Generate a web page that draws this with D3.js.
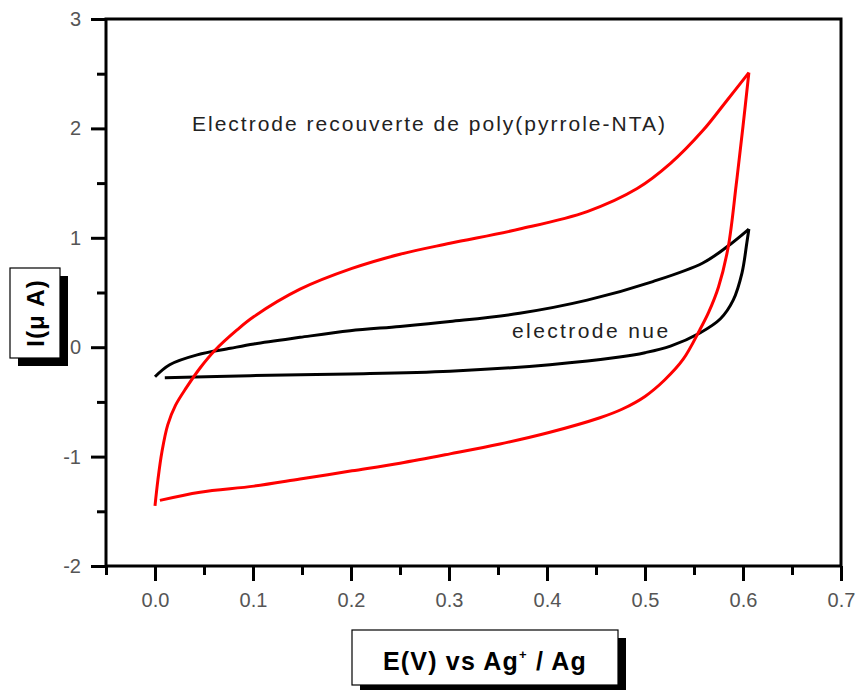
<!DOCTYPE html>
<html>
<head>
<meta charset="utf-8">
<script src="https://cdn.jsdelivr.net/npm/d3@7"></script>
<style>
  html, body { margin: 0; padding: 0; background: #fff; }
  svg { display: block; font-family: "Liberation Sans", Arial, sans-serif; }
</style>
</head>
<body>
<svg id="chart" width="858" height="690"></svg>
<script>
// Cyclic voltammograms: potential E (V vs Ag+/Ag) and current I (µA)

// Bare electrode, anodic sweep
const bareForwardE = [0.000, 0.015, 0.043, 0.077, 0.101, 0.148, 0.199, 0.250, 0.301, 0.372, 0.441, 0.508, 0.559, 0.584, 0.606];
const bareForwardI = [-0.27, -0.16, -0.07, -0.01, 0.03, 0.09, 0.15, 0.19, 0.235, 0.31, 0.43, 0.60, 0.77, 0.92, 1.08];
// Bare electrode, cathodic sweep
const bareReverseE = [0.606, 0.604, 0.599, 0.590, 0.577, 0.556, 0.526, 0.500, 0.474, 0.403, 0.301, 0.199, 0.097, 0.010];
const bareReverseI = [1.08, 0.96, 0.68, 0.43, 0.26, 0.13, 0.01, -0.05, -0.09, -0.16, -0.22, -0.245, -0.26, -0.28];

// Poly(pyrrole-NTA) coated electrode, anodic sweep
const coatedForwardE = [0.000, 0.003, 0.007, 0.013, 0.021, 0.032, 0.046, 0.061, 0.084, 0.101, 0.148, 0.201, 0.250, 0.301, 0.372, 0.441, 0.492, 0.526, 0.559, 0.584, 0.606];
const coatedForwardI = [-1.45, -1.21, -0.96, -0.71, -0.53, -0.37, -0.19, -0.03, 0.16, 0.28, 0.53, 0.72, 0.85, 0.95, 1.08, 1.24, 1.45, 1.68, 1.98, 2.26, 2.51];
// Poly(pyrrole-NTA) coated electrode, cathodic sweep
const coatedReverseE = [0.606, 0.600, 0.593, 0.585, 0.575, 0.565, 0.556, 0.539, 0.520, 0.500, 0.477, 0.454, 0.402, 0.352, 0.301, 0.250, 0.201, 0.148, 0.101, 0.046, 0.005];
const coatedReverseI = [2.51, 2.02, 1.48, 0.92, 0.55, 0.32, 0.16, -0.11, -0.30, -0.45, -0.565, -0.645, -0.78, -0.885, -0.975, -1.06, -1.13, -1.205, -1.27, -1.325, -1.40];

// Axis ticks
const xMajorTicks = [0.0, 0.1, 0.2, 0.3, 0.4, 0.5, 0.6, 0.7];
const xMinorTicks = [-0.05, 0.05, 0.15, 0.25, 0.35, 0.45, 0.55, 0.65];
const yMajorTicks = [-2, -1, 0, 1, 2, 3];
const yMinorTicks = [-1.5, -0.5, 0.5, 1.5, 2.5];

// Text
const coatedLabel = "Electrode recouverte de poly(pyrrole-NTA)";
const bareLabel = "electrode nue";
const yTitle = "I(\u03bc A)";

const svg = d3.select("#chart");
const plotLeft = 106, plotRight = 841, plotTop = 19, plotBottom = 566;

const x = d3.scaleLinear().domain([-0.05, 0.7]).range([plotLeft, plotRight]);
const y = d3.scaleLinear().domain([-2, 3]).range([plotBottom, plotTop]);

// Axes: long outward major ticks, short minor ticks
const tickColor = "#000";
const labelColor = "#555";

const xMajor = svg.append("g").attr("transform", `translate(0,${plotBottom})`)
  .call(d3.axisBottom(x).tickValues(xMajorTicks).tickSize(15).tickSizeOuter(0)
    .tickPadding(12).tickFormat(d3.format(".1f")));
const xMinor = svg.append("g").attr("transform", `translate(0,${plotBottom})`)
  .call(d3.axisBottom(x).tickValues(xMinorTicks).tickSize(9).tickSizeOuter(0).tickFormat(""));
const yMajor = svg.append("g").attr("transform", `translate(${plotLeft},0)`)
  .call(d3.axisLeft(y).tickValues(yMajorTicks).tickSize(15).tickSizeOuter(0)
    .tickPadding(10).tickFormat(d => String(d)));
const yMinor = svg.append("g").attr("transform", `translate(${plotLeft},0)`)
  .call(d3.axisLeft(y).tickValues(yMinorTicks).tickSize(9).tickSizeOuter(0).tickFormat(""));

[xMajor, xMinor, yMajor, yMinor].forEach(g => {
  g.select(".domain").remove();
  g.selectAll(".tick line").attr("stroke", tickColor).attr("stroke-width", 3);
  g.selectAll(".tick text")
    .attr("fill", labelColor)
    .style("font-size", "20px")
    .style("font-family", "'Liberation Sans', Arial, sans-serif");
});

// Plot frame
svg.append("rect")
  .attr("x", plotLeft).attr("y", plotTop)
  .attr("width", plotRight - plotLeft).attr("height", plotBottom - plotTop)
  .attr("fill", "none").attr("stroke", "#000").attr("stroke-width", 3);

// Curves
const line = d3.line()
  .x(d => x(d[0])).y(d => y(d[1]))
  .curve(d3.curveCatmullRom.alpha(0.5));
const pairs = (es, is) => es.map((e, i) => [e, is[i]]);

const curves = [
  { e: bareForwardE, i: bareForwardI, color: "#000" },
  { e: bareReverseE, i: bareReverseI, color: "#000" },
  { e: coatedForwardE, i: coatedForwardI, color: "#ff0000" },
  { e: coatedReverseE, i: coatedReverseI, color: "#ff0000" }
];
svg.append("g").selectAll("path")
  .data(curves)
  .join("path")
  .attr("d", c => line(pairs(c.e, c.i)))
  .attr("fill", "none")
  .attr("stroke", c => c.color)
  .attr("stroke-width", 3)
  .attr("stroke-linejoin", "round")
  .attr("stroke-linecap", "butt");

// Curve annotations
svg.append("text")
  .attr("x", 192).attr("y", 131)
  .attr("fill", "#222")
  .style("font-size", "21px").style("letter-spacing", "2px")
  .text(coatedLabel);
svg.append("text")
  .attr("x", 512).attr("y", 338)
  .attr("fill", "#222")
  .style("font-size", "21px").style("letter-spacing", "2.4px")
  .text(bareLabel);

// Axis title boxes with drop shadow
function titleBox(bx, by, bw, bh) {
  svg.append("rect").attr("x", bx + 8).attr("y", by + 8)
    .attr("width", bw).attr("height", bh).attr("fill", "#000");
  svg.append("rect").attr("x", bx).attr("y", by)
    .attr("width", bw).attr("height", bh)
    .attr("fill", "#fff").attr("stroke", "#000").attr("stroke-width", 1.2);
}

titleBox(10, 268, 50, 90);
svg.append("text")
  .attr("transform", "translate(44,313) rotate(-90)")
  .attr("text-anchor", "middle")
  .attr("fill", "#000")
  .style("font-size", "24px").style("font-weight", "bold").style("letter-spacing", "1px")
  .text(yTitle);

titleBox(352, 630, 266, 55);
const xt = svg.append("text")
  .attr("x", 485).attr("y", 670)
  .attr("text-anchor", "middle")
  .attr("fill", "#000")
  .style("font-size", "25px").style("font-weight", "bold").style("letter-spacing", "1.2px");
xt.append("tspan").text("E(V) vs Ag");
xt.append("tspan").attr("dy", -11).style("font-size", "13px").text("+");
xt.append("tspan").attr("dy", 11).text(" / Ag");
</script>
</body>
</html>
